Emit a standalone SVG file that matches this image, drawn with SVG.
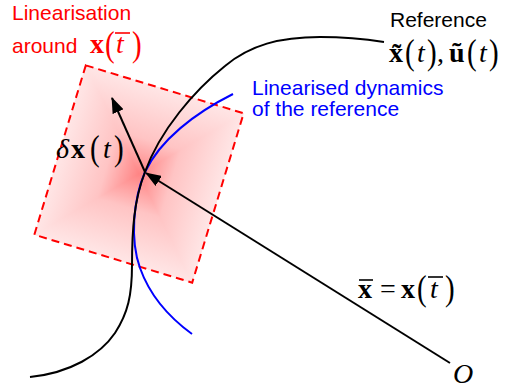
<svg xmlns="http://www.w3.org/2000/svg" width="510" height="389" viewBox="0 0 510 389">
<style>
.sans{font-family:"Liberation Sans",Arial,sans-serif;font-size:21px}
.red{fill:#ff0000}
.blue{fill:#0000ff}
.m{font-family:"Liberation Serif","Times New Roman",serif;font-size:28px}
.b{font-weight:bold}
.i{font-style:italic}
.p{font-size:29px}
.bar{stroke-width:1.6}
.curve{fill:none;stroke-width:2}
.arrow{stroke:#000;stroke-width:2;fill:none;marker-end:url(#ah)}
</style>
<defs>
<marker id="ah" viewBox="0 0 16 12" markerWidth="16" markerHeight="12" refX="15" refY="6" orient="auto" markerUnits="userSpaceOnUse">
<path d="M0,0 L16,6 L0,12 z" fill="#000"/>
</marker>
<linearGradient id="gT" gradientUnits="userSpaceOnUse" x1="0" y1="0" x2="0" y2="-88.5"><stop offset="0" stop-color="#ff8484"/><stop offset="0.4" stop-color="#ffc4c4"/><stop offset="1" stop-color="#ffe6e6"/></linearGradient>
<linearGradient id="gB" gradientUnits="userSpaceOnUse" x1="0" y1="0" x2="0" y2="88.5"><stop offset="0" stop-color="#ff8484"/><stop offset="0.4" stop-color="#ffc4c4"/><stop offset="1" stop-color="#ffe6e6"/></linearGradient>
<linearGradient id="gL" gradientUnits="userSpaceOnUse" x1="0" y1="0" x2="-82.5" y2="0"><stop offset="0" stop-color="#ff8484"/><stop offset="0.4" stop-color="#ffc4c4"/><stop offset="1" stop-color="#ffe6e6"/></linearGradient>
<linearGradient id="gR" gradientUnits="userSpaceOnUse" x1="0" y1="0" x2="82.5" y2="0"><stop offset="0" stop-color="#ff8484"/><stop offset="0.4" stop-color="#ffc4c4"/><stop offset="1" stop-color="#ffe6e6"/></linearGradient>
</defs>

<g id="linearisation-region" transform="translate(139,174) rotate(16.9)">
<rect x="-82.5" y="-88.5" width="165" height="177" fill="#ffd0d0"/>
<g shape-rendering="crispEdges">
<polygon points="0,0 -82.5,-88.5 82.5,-88.5" fill="url(#gT)"/>
<polygon points="0,0 -82.5,88.5 82.5,88.5" fill="url(#gB)"/>
<polygon points="0,0 -82.5,-88.5 -82.5,88.5" fill="url(#gL)"/>
<polygon points="0,0 82.5,-88.5 82.5,88.5" fill="url(#gR)"/>
</g>
<rect x="-82.5" y="-88.5" width="165" height="177" fill="none" stroke="#ff0000" stroke-width="2" stroke-dasharray="8,5"/>
</g>

<g id="curves">
<path id="linearised-dynamics" class="curve" stroke="#0000ff" d="M233,94 C195,113 160,140 145,172 C133,200 130,240 140,268 C150,296 170,318 192,334"/>
<path id="reference-trajectory" class="curve" stroke="#000" d="M30,377 C70,373 100,355 115,333 C128,313 132,295 132,265 C132,230 134,200 145,172 C160,130 195,90 225,66 C250,45 280,37 320,37 C345,37 365,39 384,42"/>
</g>

<g id="connectors">
<line class="arrow" x1="145" y1="172" x2="112" y2="98"/>
<line class="arrow" x1="450" y1="363" x2="146" y2="173"/>
</g>

<g id="label-linearisation">
<text class="sans red" x="12" y="20">Linearisation</text>
<text class="sans red" x="12" y="53">around</text>
<text class="m b" x="90" y="53" fill="#ff0000">x</text>
<text class="m p" transform="translate(105,56) scale(1,1.2)" fill="#ff0000">(</text>
<text class="m i" x="116" y="53" fill="#ff0000">t</text>
<text class="m p" transform="translate(132,56) scale(1,1.2)" fill="#ff0000">)</text>
<line class="bar" x1="115" y1="33" x2="130" y2="33" stroke="#ff0000"/>
</g>

<g id="label-reference">
<text class="sans" x="390" y="27" fill="#000">Reference</text>
<text class="m b" x="389" y="62">x̃</text>
<text class="m p" transform="translate(405,64) scale(1,1.2)">(</text>
<text class="m i" x="417" y="62">t</text>
<text class="m p" transform="translate(427,64) scale(1,1.2)">)</text>
<text class="m" x="437" y="62">,</text>
<text class="m b" x="449" y="62">ũ</text>
<text class="m p" transform="translate(467,64) scale(1,1.2)">(</text>
<text class="m i" x="479" y="62">t</text>
<text class="m p" transform="translate(489,64) scale(1,1.2)">)</text>
</g>

<g id="label-linearised-dynamics">
<text class="sans blue" x="252" y="95">Linearised dynamics</text>
<text class="sans blue" x="252" y="116">of the reference</text>
</g>

<g id="label-delta-x">
<text class="m i" x="56" y="158">δ</text>
<text class="m b" x="71" y="158">x</text>
<text class="m p" transform="translate(90,160) scale(1,1.2)">(</text>
<text class="m i" x="103" y="158">t</text>
<text class="m p" transform="translate(114,160) scale(1,1.2)">)</text>
</g>

<g id="label-xbar">
<text class="m b" x="358" y="298">x</text>
<line class="bar" x1="359" y1="280" x2="373" y2="280" stroke="#000"/>
<text class="m" x="380" y="298">=</text>
<text class="m b" x="401" y="298">x</text>
<text class="m p" transform="translate(417,300) scale(1,1.2)">(</text>
<text class="m i" x="430" y="298">t</text>
<line class="bar" x1="428" y1="277" x2="443" y2="277" stroke="#000"/>
<text class="m p" transform="translate(445,300) scale(1,1.2)">)</text>
</g>

<g id="label-origin">
<text class="m i" x="453" y="383">O</text>
</g>
</svg>
